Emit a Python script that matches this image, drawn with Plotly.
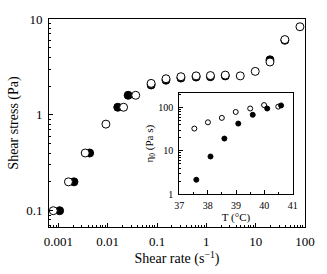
import plotly.graph_objects as go

# Main plot: shear stress vs shear rate
filled_rate = [0.00106, 0.00207, 0.0043, 0.016, 0.026, 0.076, 0.152, 0.305, 0.62, 1.21, 2.42, 19.5, 39]
filled_stress = [0.1, 0.2, 0.4, 1.2, 1.6, 2.05, 2.3, 2.42, 2.48, 2.5, 2.55, 3.75, 6.0]
open_rate = [0.00079, 0.0016, 0.0035, 0.0092, 0.021, 0.037, 0.076, 0.152, 0.305, 0.62, 1.21, 2.42, 4.87, 9.8, 19.5, 39, 79]
open_stress = [0.1, 0.2, 0.4, 0.8, 1.2, 1.6, 2.13, 2.38, 2.5, 2.55, 2.57, 2.6, 2.55, 2.84, 3.56, 6.1, 8.3]

# Inset: zero-shear viscosity vs temperature
inset_open_T = [37.53, 38.01, 38.50, 38.99, 39.50, 39.99, 40.49]
inset_open_eta = [32.7, 45.6, 57.7, 79, 95, 114, 105]
inset_filled_T = [37.6, 38.1, 38.59, 39.08, 39.59, 40.1, 40.59]
inset_filled_eta = [2.15, 7.4, 19.2, 42.6, 68, 95, 112]

x_ticks = [0.001, 0.01, 0.1, 1, 10, 100]
x_ticktext = ["0.001", "0.01", "0.1", "1", "10", "100"]
y_ticks = [0.1, 1, 10]
y_ticktext = ["0.1", "1", "10"]
inset_x_ticks = [37, 38, 39, 40, 41]
inset_y_ticks = [1, 10, 100]


def log_minor(lo_exp, hi_exp):
    return [m * 10.0 ** e for e in range(lo_exp, hi_exp) for m in range(2, 10)]


FONT = "Liberation Serif"
MAIN_X = [-3.19, 2.0]
MAIN_Y = [-1.17, 1.0]
INSET_X = [37, 41]
INSET_Y = [0, 2.33]
INSET_XDOM = [0.509, 0.952]
INSET_YDOM = [0.158, 0.643]

fig = go.Figure()
fig.add_trace(go.Scatter(x=filled_rate, y=filled_stress, mode="markers",
                         marker=dict(symbol="circle", size=8, color="black",
                                     line=dict(color="black", width=1)),
                         xaxis="x", yaxis="y", showlegend=False))
fig.add_trace(go.Scatter(x=open_rate, y=open_stress, mode="markers",
                         marker=dict(symbol="circle", size=8, color="white",
                                     line=dict(color="black", width=1)),
                         xaxis="x", yaxis="y", showlegend=False))
fig.add_trace(go.Scatter(x=inset_open_T, y=inset_open_eta, mode="markers",
                         marker=dict(symbol="circle", size=5, color="white",
                                     line=dict(color="black", width=1)),
                         xaxis="x2", yaxis="y2", showlegend=False))
fig.add_trace(go.Scatter(x=inset_filled_T, y=inset_filled_eta, mode="markers",
                         marker=dict(symbol="circle", size=5, color="black",
                                     line=dict(color="black", width=1)),
                         xaxis="x2", yaxis="y2", showlegend=False))

tick_common = dict(showline=True, linecolor="black", linewidth=1, mirror=True,
                   ticks="inside", ticklen=4, tickcolor="black",
                   tickwidth=1, showgrid=False, zeroline=False)
minor_common = dict(ticks="inside", ticklen=2, tickcolor="black", showgrid=False)
mirror_common = dict(showticklabels=False, ticks="inside", ticklen=4, tickcolor="black",
                     tickwidth=1, showgrid=False, zeroline=False, showline=False)

fig.update_layout(
    width=327, height=274,
    margin=dict(l=42, r=16, t=13, b=40),
    paper_bgcolor="white", plot_bgcolor="white",
    font=dict(family=FONT, size=13, color="black"),
    xaxis=dict(type="log", range=MAIN_X, tickvals=x_ticks, ticktext=x_ticktext,
               ticklabelstandoff=2,
               title=dict(text="Shear rate (s<sup>\u22121</sup>)", standoff=4,
                          font=dict(size=14)),
               minor=dict(tickvals=log_minor(-4, 2), **minor_common),
               **tick_common),
    yaxis=dict(type="log", range=MAIN_Y, tickvals=y_ticks, ticktext=y_ticktext,
               ticklabelstandoff=3,
               title=dict(text="Shear stress (Pa)", standoff=4, font=dict(size=14)),
               minor=dict(tickvals=log_minor(-2, 1), **minor_common),
               **tick_common),
    xaxis3=dict(type="log", range=MAIN_X, tickvals=x_ticks, overlaying="x", side="top",
                anchor="y", minor=dict(tickvals=log_minor(-4, 2), **minor_common),
                **mirror_common),
    yaxis3=dict(type="log", range=MAIN_Y, tickvals=y_ticks, overlaying="y", side="right",
                anchor="x", minor=dict(tickvals=log_minor(-2, 1), **minor_common),
                **mirror_common),
    xaxis2=dict(domain=INSET_XDOM, anchor="y2", range=INSET_X,
                tickvals=inset_x_ticks, tickfont=dict(size=10), ticklabelstandoff=2,
                title=dict(text="T (\u00b0C)", standoff=2, font=dict(size=11)),
                minor=dict(tickvals=[37.5, 38.5, 39.5, 40.5], **minor_common),
                **tick_common),
    yaxis2=dict(domain=INSET_YDOM, anchor="x2", type="log", range=INSET_Y,
                tickvals=inset_y_ticks, tickfont=dict(size=10), ticklabelstandoff=3,
                title=dict(text="\u03b7<sub>0</sub> (Pa s)", standoff=2, font=dict(size=11)),
                minor=dict(tickvals=log_minor(0, 3), **minor_common),
                **tick_common),
    xaxis4=dict(domain=INSET_XDOM, range=INSET_X, tickvals=inset_x_ticks,
                overlaying="x2", side="top", anchor="y2",
                minor=dict(tickvals=[37.5, 38.5, 39.5, 40.5], **minor_common),
                **mirror_common),
    yaxis4=dict(domain=INSET_YDOM, type="log", range=INSET_Y, tickvals=inset_y_ticks,
                overlaying="y2", side="right", anchor="x2",
                minor=dict(tickvals=log_minor(0, 3), **minor_common),
                **mirror_common),
)

fig.write_html("out.html",
               config={"displayModeBar": False},
               post_script="document.body.style.margin='0';document.body.style.padding='0';")
